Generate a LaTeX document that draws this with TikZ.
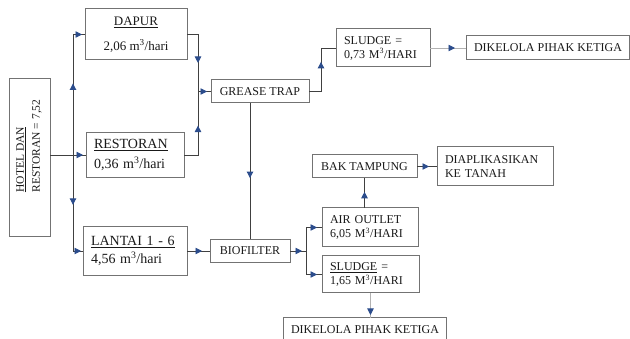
\documentclass[tikz,border=0pt]{standalone}
\usepackage{fontspec}
\setmainfont{Liberation Serif}
\usetikzlibrary{arrows.meta, decorations.markings, positioning}
\definecolor{flowblue}{HTML}{2B4C8C}
\def\boxdrawcolor{black!55}
\def\boxlinewidth{1pt}
\def\linedrawcolor{black!75}
\def\faintdrawcolor{black!30}
\def\linewidthconn{0.9pt}
\def\fontcolor{black!90}
\def\innerxsep{8pt}
\def\tiplength{6.5pt}
\tikzset{
	% boxes
	stage/.style={
		draw=\boxdrawcolor,
		line width=\boxlinewidth,
		text=\fontcolor,
		font=\fontsize{12}{14}\selectfont,
		shape=rectangle,
		anchor=north west,
		inner xsep=\innerxsep,
		inner ysep=0pt,
		outer sep=0pt,
	},
	% boxes with text on the left
	stage_left/.style={
		stage,
		align=left,
	},
	% rotated label of the first box
	side_label/.style={
		text=\fontcolor,
		font=\fontsize{11.5}{16}\selectfont,
		rotate=90,
		align=left,
		inner sep=0pt,
	},
	% connections
	connection/.style={
		draw=\linedrawcolor,
		line width=\linewidthconn,
	},
	faint_connection/.style={
		connection,
		draw=\faintdrawcolor,
	},
	% arrow marks on connections
	mark_at/.style={
		postaction={
			decorate,
			decoration={
				markings,
				mark=at position #1 with {\arrow[flowblue]{Triangle[length=\tiplength, width=\tiplength]}}
			}
		}
	},
}

\begin{document}
\begin{tikzpicture}[x=1pt, y=-1pt]
	\useasboundingbox (0,0) rectangle (630,339);
	%
	\node[
		stage,
		minimum width=41pt,
		minimum height=158pt
	] (hotel) at (9,79) {};
	\node[
		side_label
	] (hotel_text) at (29,146) {\underline{HOTEL DAN}\\RESTORAN = 7,52};
	%
	\node[
		stage,
		align=center,
		minimum width=102pt,
		minimum height=51pt,
		font=\fontsize{13}{15}\selectfont
	] (dapur) at (85,9) {\underline{DAPUR}\\[10pt]2,06 m\textsuperscript{3}/hari};
	%
	\node[
		stage_left,
		text width=82pt,
		minimum height=45pt,
		font=\fontsize{14}{20}\selectfont
	] (restoran) at (86,132.5) {\underline{RESTORAN}\\0,36 m\textsuperscript{3}/hari};
	%
	\node[
		stage_left,
		text width=88pt,
		minimum height=49pt,
		font=\fontsize{14}{17.5}\selectfont
	] (lantai) at (83,226.5) {\underline{LANTAI 1 - 6}\\4,56 m\textsuperscript{3}/hari};
	%
	\node[
		stage,
		minimum width=98pt,
		minimum height=23pt
	] (grease) at (211,80) {GREASE TRAP};
	%
	\node[
		stage_left,
		text width=78pt,
		minimum height=38pt
	] (sludge_top) at (336,29) {SLUDGE =\\0,73 M\textsuperscript{3}/HARI};
	%
	\node[
		stage,
		minimum width=163pt,
		minimum height=24pt
	] (dikelola_top) at (466,36) {DIKELOLA PIHAK KETIGA};
	%
	\node[
		stage,
		minimum width=80pt,
		minimum height=23pt
	] (biofilter) at (210,239.5) {BIOFILTER};
	%
	\node[
		stage,
		minimum width=105pt,
		minimum height=23pt
	] (bak) at (312,155) {BAK TAMPUNG};
	%
	\node[
		stage_left,
		text width=100pt,
		minimum height=39pt
	] (diaplikasikan) at (437,147) {DIAPLIKASIKAN\\KE TANAH};
	%
	\node[
		stage_left,
		text width=80pt,
		minimum height=39pt
	] (air_outlet) at (322,208) {AIR OUTLET\\6,05 M\textsuperscript{3}/HARI};
	%
	\node[
		stage_left,
		text width=81pt,
		minimum height=37pt
	] (sludge_bottom) at (322,256) {\underline{SLUDGE} =\\1,65 M\textsuperscript{3}/HARI};
	%
	\node[
		stage,
		minimum width=161pt,
		minimum height=24pt
	] (dikelola_bottom) at (283,318) {DIKELOLA PIHAK KETIGA};
	%
	\coordinate (split) at (73,155);
	\coordinate (join) at (198,91.5);
	\coordinate (fork) at (306,251);
	%
	\draw[connection] (hotel.east |- split) -- (split);
	\draw[connection, mark_at=-3pt] (split) -- (split -| restoran.west);
	\draw[connection, mark_at=0.54, mark_at=-3pt] (split) |- (dapur.west);
	\draw[connection, mark_at=0.47, mark_at=-2pt] (split) |- (lantai.west);
	\draw[connection, mark_at=0.58] (dapur.east) -| (join);
	\draw[connection, mark_at=0.56] (restoran.east) -| (join);
	\draw[connection, mark_at=-4pt] (join) -- (grease.west);
	\draw[connection, mark_at=0.59] (grease.east) -- ++(12,0) |- (sludge_top.west);
	\draw[faint_connection, mark_at=-11pt] (sludge_top.east) -- (dikelola_top.west);
	\draw[connection, mark_at=0.55] (biofilter.north |- grease.south) -- (biofilter.north);
	\draw[connection, mark_at=-8pt] (lantai.east) -- (biofilter.west);
	\draw[connection, mark_at=-4pt] (biofilter.east) -- (fork);
	\draw[connection, mark_at=-5pt] (fork) |- (air_outlet.west);
	\draw[connection, mark_at=-5pt] (fork) |- (sludge_bottom.west);
	\draw[connection, mark_at=0.54] (bak.south |- air_outlet.north) -- (bak.south);
	\draw[connection, mark_at=-8pt] (bak.east) -- (diaplikasikan.west);
	\draw[faint_connection, mark_at=-3pt] (sludge_bottom.south) -- (sludge_bottom.south |- dikelola_bottom.north);
\end{tikzpicture}
\end{document}
